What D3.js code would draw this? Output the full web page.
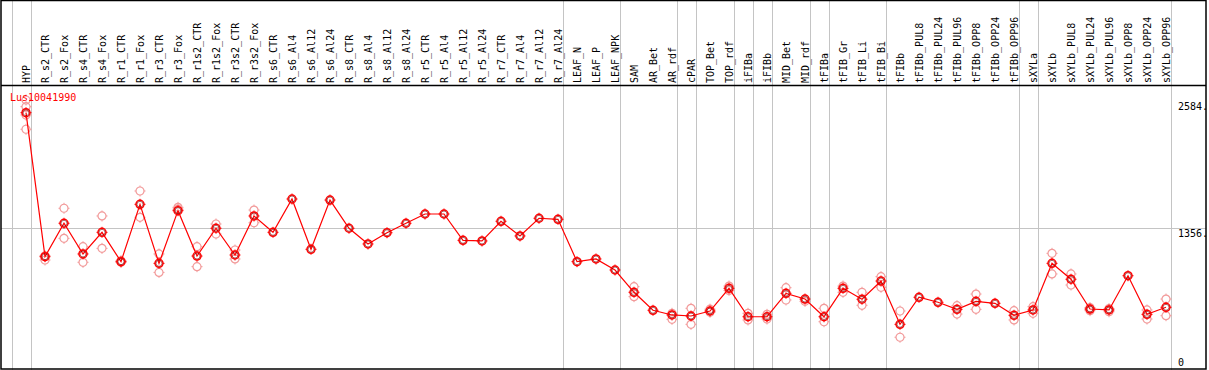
<!DOCTYPE html>
<html lang="en">
<head>
  <meta charset="UTF-8">
  <title>Lus10041990</title>
  <script src="https://d3js.org/d3.v7.min.js"></script>
  <style>
    body { margin: 0; background: #fff; }
    text { font-family: "DejaVu Sans Mono", monospace; font-size: 10px; }
  </style>
</head>
<body>
  <div id="my_dataviz"></div>
  <script>
    // categories (one per column)
    var categories = ["HYP","R_s2_CTR","R_s2_Fox","R_s4_CTR","R_s4_Fox","R_r1_CTR","R_r1_Fox","R_r3_CTR","R_r3_Fox",
      "R_r1s2_CTR","R_r1s2_Fox","R_r3s2_CTR","R_r3s2_Fox","R_s6_CTR","R_s6_Al4","R_s6_Al12","R_s6_Al24",
      "R_s8_CTR","R_s8_Al4","R_s8_Al12","R_s8_Al24","R_r5_CTR","R_r5_Al4","R_r5_Al12","R_r5_Al24",
      "R_r7_CTR","R_r7_Al4","R_r7_Al12","R_r7_Al24","LEAF_N","LEAF_P","LEAF_NPK","SAM","AR_Bet","AR_rdf",
      "cPAR","TOP_Bet","TOP_rdf","iFIBa","iFIBb","MID_Bet","MID_rdf","tFIBa","tFIB_Gr","tFIB_Li","tFIB_Bi",
      "tFIBb","tFIBb_PUL8","tFIBb_PUL24","tFIBb_PUL96","tFIBb_OPP8","tFIBb_OPP24","tFIBb_OPP96",
      "sXYLa","sXYLb","sXYLb_PUL8","sXYLb_PUL24","sXYLb_PUL96","sXYLb_OPP8","sXYLb_OPP24","sXYLb_OPP96"];

    // mean expression per column
    var meanValues = [2462,1079,1400,1105,1313,1031,1582,1015,1521,1085,1352,1095,1470,1313,1633,1150,1623,
      1352,1201,1309,1400,1489,1489,1236,1230,1419,1278,1448,1438,1031,1057,951,737,564,519,
      509,557,775,502,502,727,672,502,775,670,845,429,689,641,573,650,631,516,
      567,1015,862,576,567,896,525,593];

    // replicate values per column
    var replicates = [[2584,2520,2440,2303],[1088,1047],[1544,1255],[1175,1025],[1470,1159],[1040,1025],
      [1710,1457],[1105,928],[1553,1535],[1175,983],[1393,1297],[1143,1057],[1527,1405],
      [],[],[],[],[],[],[],[],[],[],[],[],[],[],[],[],[],[],[],
      [791,695],[],[535,477],[583,429],[575,545],[797,755],[535,471],[525,480],[781,663],[650],
      [583,454],[797,737],[737,612],[887,785],[557,305],[],[],[608,528],[720,573],[],[560,471],
      [599,535],[1111,913],[913,807],[590,560],[580,550],[],[567,480],[672,512]];

    // columns that close a group (grey separator after them)
    var groupEnds = ["HYP","R_r7_Al24","LEAF_NPK","AR_rdf","cPAR","TOP_rdf","iFIBa","iFIBb","MID_rdf",
      "tFIBa","tFIB_Bi","tFIBb_OPP96","sXYLa","sXYLb_OPP96"];

    var yTicks = [0, 1356, 2584];
    var yTickLabels = ["0", "1356.", "2584."];
    var gridValues = [1356];
    var geneName = "Lus10041990";

    var width = 1209, height = 370;

    var svg = d3.select("#my_dataviz")
      .append("svg")
      .attr("width", width)
      .attr("height", height);

    var x = d3.scalePoint()
      .domain(categories)
      .range([26, 1166]);
    var step = x.step();

    var y = d3.scaleLinear()
      .domain([0, 2584])
      .range([369, 100]);

    // grey separators, full height
    var sepX = [x("HYP") - step + 4.5].concat(groupEnds.map(function(c) { return x(c) + 4.5; }));
    svg.append("g")
      .selectAll("line")
      .data(sepX)
      .enter()
      .append("line")
      .attr("x1", function(d) { return Math.round(d) + 0.5; })
      .attr("x2", function(d) { return Math.round(d) + 0.5; })
      .attr("y1", 0)
      .attr("y2", height)
      .attr("stroke", "#c4c4c4")
      .attr("stroke-width", 1);

    // horizontal grid
    svg.append("g")
      .selectAll("line")
      .data(gridValues)
      .enter()
      .append("line")
      .attr("x1", 1)
      .attr("x2", 1206)
      .attr("y1", function(d) { return Math.round(y(d)) + 0.5; })
      .attr("y2", function(d) { return Math.round(y(d)) + 0.5; })
      .attr("stroke", "#c4c4c4");

    // frame and header line
    svg.append("rect")
      .attr("x", 1).attr("y", 0.5)
      .attr("width", 1205).attr("height", 368.5)
      .attr("fill", "none")
      .attr("stroke", "#000")
      .attr("stroke-width", 1.5);
    svg.append("line")
      .attr("x1", 1).attr("x2", 1206)
      .attr("y1", 85.5).attr("y2", 85.5)
      .attr("stroke", "#000")
      .attr("stroke-width", 1.5);

    // column labels, rotated
    svg.append("g")
      .selectAll("text")
      .data(categories)
      .enter()
      .append("text")
      .attr("transform", function(d) { return "translate(" + (x(d) + 4) + ",83) rotate(-90)"; })
      .attr("fill", "#000")
      .text(function(d) { return d; });

    // y tick labels on the right
    svg.append("g")
      .selectAll("text")
      .data(yTicks)
      .enter()
      .append("text")
      .attr("x", 1178)
      .attr("y", function(d) { return Math.min(y(d) + 9.5, 366); })
      .attr("fill", "#000")
      .text(function(d, i) { return yTickLabels[i]; });

    // marker: ring with four tiny ticks
    function marker(g, color, sw) {
      var r = 4;
      g.append("circle").attr("r", r).attr("fill", "none").attr("stroke", color).attr("stroke-width", sw);
      g.append("path")
        .attr("d", "M0," + (-r - 1.5) + "V" + (-r) + "M0," + r + "V" + (r + 1.5) +
          "M" + (-r - 1.5) + ",0H" + (-r) + "M" + r + ",0H" + (r + 1.5))
        .attr("stroke", color).attr("stroke-width", 1);
    }

    // replicate points
    var repData = [];
    replicates.forEach(function(vals, i) {
      vals.forEach(function(v) { repData.push({cat: categories[i], value: v}); });
    });
    svg.append("g")
      .selectAll("g")
      .data(repData)
      .enter()
      .append("g")
      .attr("transform", function(d) { return "translate(" + x(d.cat) + "," + y(d.value) + ")"; })
      .each(function() { marker(d3.select(this), "#f29a9a", 1.2); });

    // mean line
    var line = d3.line()
      .x(function(d, i) { return x(categories[i]); })
      .y(function(d) { return y(d); });
    svg.append("path")
      .datum(meanValues)
      .attr("d", line)
      .attr("fill", "none")
      .attr("stroke", "#ff0000")
      .attr("stroke-width", 1.2);

    // mean points
    svg.append("g")
      .selectAll("g")
      .data(meanValues)
      .enter()
      .append("g")
      .attr("transform", function(d, i) { return "translate(" + x(categories[i]) + "," + y(d) + ")"; })
      .each(function() {
        marker(d3.select(this), "#ff0000", 1.5);
        d3.select(this).append("circle").attr("r", 3).attr("fill", "none")
          .attr("stroke", "#700").attr("stroke-width", 0.6);
      });

    // gene name
    svg.append("text")
      .attr("x", 10)
      .attr("y", 101)
      .attr("fill", "#ff0000")
      .text(geneName);
  </script>
</body>
</html>
